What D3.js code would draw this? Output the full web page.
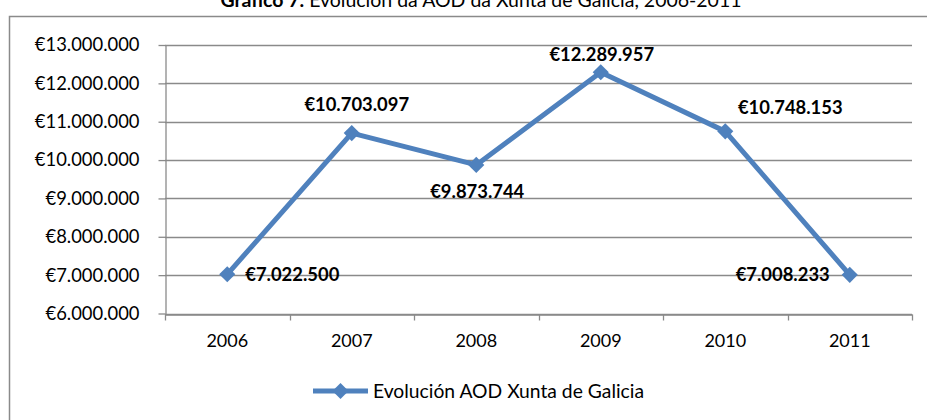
<!DOCTYPE html>
<html>
<head>
<meta charset="utf-8">
<script src="https://cdn.jsdelivr.net/npm/d3@7"></script>
<style>
  html, body { margin: 0; padding: 0; background: #fff; }
  svg { display: block; }
  text { font-family: Lato, "Open Sans", sans-serif; fill: #000; }
</style>
</head>
<body>
<svg id="chart" width="927" height="420"></svg>
<script>
// ---- data ----
const years = ["2006", "2007", "2008", "2009", "2010", "2011"];
const aodValues = [7022500, 10703097, 9873744, 12289957, 10748153, 7008233];
const yTickValues = [6000000, 7000000, 8000000, 9000000, 10000000, 11000000, 12000000, 13000000];
const seriesName = "Evolución AOD Xunta de Galicia";
const titleBold = "Gráfico 7.";
const titleRest = " Evolución da AOD da Xunta de Galicia, 2006-2011";

// label placement (style, not data): anchor + offsets from the point
const labelPlacement = [
  { anchor: "start",  dx: 18, dy: 0 },
  { anchor: "middle", dx: 5,  dy: -29 },
  { anchor: "middle", dx: 1,  dy: 27 },
  { anchor: "middle", dx: 1,  dy: -18 },
  { anchor: "middle", dx: 65, dy: -24 },
  { anchor: "end",    dx: -20, dy: 0 }
];

const fmtEuro = v => "€" + d3.format(",")(v).replace(/,/g, ".");

const svg = d3.select("#chart");
const blue = "#4F81BD";
const gridColor = "#8a8a8a";

// frame
svg.append("rect")
  .attr("x", 9.5).attr("y", 16.5)
  .attr("width", 960).attr("height", 440)
  .attr("fill", "none").attr("stroke", "#8a8a8a").attr("stroke-width", 1.5);

// title (cut at top, as in the reference)
const title = svg.append("text")
  .attr("x", 481).attr("y", 7)
  .attr("text-anchor", "middle")
  .style("font-size", "19.5px");
title.append("tspan").style("font-weight", "bold").text(titleBold);
title.append("tspan").text(titleRest);

const plot = { left: 165, right: 912, top: 45, bottom: 313.5 };

const x = d3.scaleBand().domain(years).range([plot.left, plot.right]).padding(0);
const y = d3.scaleLinear().domain([6000000, 13000000]).range([plot.bottom, plot.top]);

// gridlines
svg.append("g")
  .selectAll("line")
  .data(yTickValues)
  .join("line")
  .attr("x1", plot.left).attr("x2", plot.right)
  .attr("y1", d => Math.round(y(d)) + 0.5).attr("y2", d => Math.round(y(d)) + 0.5)
  .attr("stroke", gridColor).attr("stroke-width", 1.3);

// y axis
const yAxis = svg.append("g")
  .attr("transform", `translate(${plot.left + 0.5},0)`)
  .call(d3.axisLeft(y).tickValues(yTickValues).tickFormat(fmtEuro).tickSizeInner(7).tickSizeOuter(0).tickPadding(19));
yAxis.select(".domain").attr("stroke", gridColor).attr("stroke-width", 1.3);
yAxis.selectAll(".tick line").attr("stroke", gridColor).attr("stroke-width", 1.3);
yAxis.selectAll(".tick text").style("font-size", "18.4px").style("font-family", "Lato, sans-serif").attr("fill", "#000");

// x axis
const xAxis = svg.append("g")
  .attr("transform", `translate(0,${Math.round(plot.bottom) + 0.5})`)
  .call(d3.axisBottom(x).tickSize(0).tickPadding(20));
xAxis.select(".domain").attr("stroke", gridColor).attr("stroke-width", 1.3);
xAxis.selectAll(".tick text").style("font-size", "18px").style("font-family", "Lato, sans-serif").attr("fill", "#000");
// category boundary ticks
const bounds = years.map(d => x(d)).concat([x(years[years.length - 1]) + x.bandwidth()]);
xAxis.append("g").selectAll("line")
  .data(bounds).join("line")
  .attr("x1", d => Math.round(d) + 0.5).attr("x2", d => Math.round(d) + 0.5)
  .attr("y1", 0).attr("y2", 6)
  .attr("stroke", gridColor).attr("stroke-width", 1.3);

// line
const cx = (d, i) => x(years[i]) + x.bandwidth() / 2;
const line = d3.line().x((d, i) => cx(d, i)).y(d => y(d));
svg.append("path")
  .datum(aodValues)
  .attr("d", line)
  .attr("fill", "none")
  .attr("stroke", blue)
  .attr("stroke-width", 5)
  .attr("stroke-linejoin", "round");

// markers
const diamond = d3.symbol().type(d3.symbolSquare).size(130);
svg.append("g").selectAll("path")
  .data(aodValues).join("path")
  .attr("d", diamond)
  .attr("transform", (d, i) => `translate(${cx(d, i)},${y(d)}) rotate(45)`)
  .attr("fill", blue);

// data labels
svg.append("g").selectAll("text")
  .data(aodValues).join("text")
  .attr("x", (d, i) => cx(d, i) + labelPlacement[i].dx)
  .attr("y", (d, i) => y(d) + labelPlacement[i].dy)
  .attr("dy", "0.35em")
  .attr("text-anchor", (d, i) => labelPlacement[i].anchor)
  .style("font-size", "18.4px")
  .style("font-weight", "bold")
  .text(fmtEuro);

// legend
const lg = svg.append("g");
lg.append("line")
  .attr("x1", 313).attr("x2", 368).attr("y1", 391).attr("y2", 391)
  .attr("stroke", blue).attr("stroke-width", 5);
lg.append("path")
  .attr("d", diamond)
  .attr("transform", "translate(340.5,391) rotate(45)")
  .attr("fill", blue);
lg.append("text")
  .attr("x", 373).attr("y", 391).attr("dy", "0.35em")
  .style("font-size", "19.3px")
  .text(seriesName);
</script>
</body>
</html>
